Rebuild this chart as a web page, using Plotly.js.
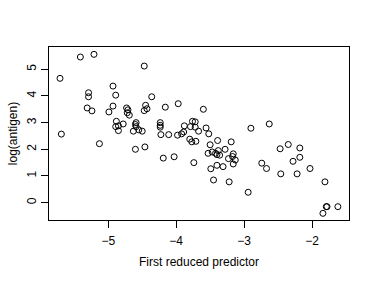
<!DOCTYPE html>
<html><head><meta charset="utf-8">
<script src="https://cdn.plot.ly/plotly-3.0.1.min.js"></script>
<style>html,body{margin:0;padding:0;background:#fff}#plot{width:374px;height:281px}</style>
</head><body><div id="plot"></div>
<script>
var xVals = [-5.71,-5.41,-5.21,-4.47,-4.93,-5.29,-5.29,-4.89,-4.36,-5.31,-5.24,-4.93,-4.99,-4.73,-4.71,-4.69,-4.72,-4.45,-4.43,-4.47,
-5.69,-5.13,-4.88,-4.85,-4.89,-4.78,-4.85,-4.59,-4.60,-4.59,-4.55,-4.50,-4.63,-4.60,-4.46,-4.235,-4.235,-4.235,-4.225,-4.11,
-4.19,-4.03,-3.88,-3.98,-3.92,-3.89,-3.76,-3.72,-3.79,-3.72,-3.67,-3.80,-3.77,-3.71,-3.74,-3.56,-3.52,-3.50,-3.39,-3.53,
-3.47,-3.42,-3.38,-3.36,-3.40,-3.28,-3.19,-3.49,-3.40,-3.31,-3.45,-3.16,-3.17,-3.23,-3.13,-3.16,-3.22,-2.94,-2.90,-2.63,
-2.47,-2.35,-2.18,-2.18,-2.28,-2.74,-2.67,-2.46,-2.22,-2.03,-1.81,-1.79,-1.78,-1.62,-1.84,-4.16,-3.97,-3.60];
var yVals = [4.66,5.46,5.56,5.12,4.37,4.12,3.97,4.03,3.97,3.55,3.44,3.62,3.40,3.55,3.48,3.28,3.37,3.65,3.52,3.45,
2.57,2.21,3.05,2.88,2.85,2.95,2.70,3.00,2.93,2.85,2.73,2.68,2.68,2.00,2.09,3.00,2.90,2.83,2.55,2.55,
1.67,1.72,2.88,2.53,2.58,2.65,3.05,3.03,2.85,2.83,2.68,2.38,2.28,2.30,1.50,2.80,2.58,2.17,2.33,1.85,
1.90,1.85,1.95,1.78,1.80,2.00,2.28,1.27,1.40,1.35,0.85,1.83,1.73,1.65,1.60,1.45,0.78,0.39,2.79,2.95,
2.02,2.18,2.05,1.70,1.55,1.48,1.28,1.08,1.08,1.28,0.78,-0.15,-0.15,-0.15,-0.40,3.58,3.71,3.50];
var xTicks = [-5,-4,-3,-2];
var yTicks = [0,1,2,3,4,5];
var xLabel = "First reduced predictor";
var yLabel = "log(antigen)";

var trace = {x:xVals, y:yVals, type:'scatter', mode:'markers',
  marker:{symbol:'circle-open', size:6, color:'#000', line:{width:1, color:'#000'}},
  hoverinfo:'none'};
var font = {family:'"Liberation Sans", Arial, sans-serif', size:12, color:'#000'};
var layout = {
  width:374, height:281,
  margin:{l:49, r:25, t:47, b:61},
  paper_bgcolor:'#fff', plot_bgcolor:'#fff',
  showlegend:false, font:font,
  xaxis:{range:[-5.872,-1.456], tickvals:xTicks, ticks:'outside', ticklen:7, tickwidth:1, tickcolor:'#000',
    showline:true, mirror:true, linecolor:'#000', linewidth:1, showgrid:false, zeroline:false,
    tickfont:font, ticklabelstandoff:3,
    title:{text:xLabel, font:font, standoff:10}},
  yaxis:{range:[-0.65,5.835], tickvals:yTicks, ticks:'outside', ticklen:7, tickwidth:1, tickcolor:'#000',
    showline:true, mirror:true, linecolor:'#000', linewidth:1, showgrid:false, zeroline:false,
    tickangle:-90, tickfont:font,
    title:{text:yLabel, font:font, standoff:5}}
};
Plotly.newPlot('plot',[trace],layout,{staticPlot:true, displayModeBar:false});
</script></body></html>
